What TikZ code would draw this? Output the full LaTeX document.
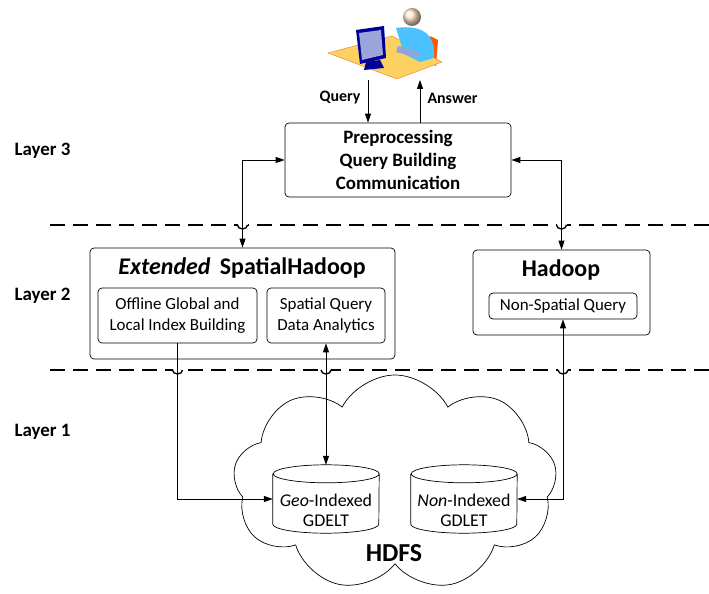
\documentclass[tikz,border=0pt]{standalone}
\usepackage{fontspec}
\setmainfont{Carlito}
\usetikzlibrary{arrows.meta,shapes.symbols}

\tikzset{
  box/.style={draw, rounded corners=4bp, line width=0.7bp, inner sep=0pt, align=center},
  layerlabel/.style={font=\bfseries\fontsize{19}{22}\selectfont, anchor=west},
  sep/.style={line width=1.4bp, dash pattern=on 15bp off 8bp},
  link/.style={line width=0.8bp, -{Triangle[length=9bp,width=6bp]}},
  twoway/.style={line width=0.8bp, {Triangle[length=9bp,width=6bp]}-{Triangle[length=9bp,width=6bp]}},
  store/.style={minimum width=106bp, minimum height=68bp, inner sep=0pt},
  storetext/.style={align=center, font=\fontsize{18}{20}\selectfont},
}

% small bump where a connector crosses a dashed separator
\newcommand{\hop}[2]{%
  \fill[white] (#1-5,#2-2) rectangle (#1+5,#2+2);
  \draw[line width=1.4bp] (#1-5,#2) arc (180:0:5 and 4);
}
% drum outline around a store node
\newcommand{\drum}[1]{%
  \draw[line width=0.7bp] ([yshift=-9bp]#1.north west) -- ([yshift=9bp]#1.south west)
    arc (180:360:53bp and 9bp) -- ([yshift=-9bp]#1.north east)
    arc (0:180:53bp and 9bp) arc (180:360:53bp and 9bp);
}

\begin{document}
\begin{tikzpicture}[x=1bp,y=-1bp]
\useasboundingbox (0,0) rectangle (709,594);

% user at the desk
\fill[orange!70!red] (430,36) -- (438,40) -- (436,66) -- (428,62) -- cycle;
\filldraw[draw=orange!60!brown, fill=yellow!45!orange!60] (328,53) -- (392,36) -- (442,62) -- (397,79) -- cycle;
\fill[blue!35!cyan!70] (396,28) .. controls (424,24) and (436,36) .. (434,58) -- (420,62) -- (404,54) -- cycle;
\fill[cyan!40!blue!45] (398,46) -- (420,52) -- (418,58) -- (396,52) -- cycle;
\shade[ball color=orange!20] (412,17) circle (9);
\fill[blue!60!black] (356,30) -- (384,26) -- (386,58) -- (360,64) -- cycle;
\fill[cyan!30!blue!40] (359,33) -- (381,30) -- (383,55) -- (362,60) -- cycle;
\fill[blue!60!black] (366,62) -- (380,60) -- (384,68) -- (364,70) -- cycle;
\node (user) at (385,40) {};

\coordinate (qin) at (368,80);
\coordinate (aout) at (420,80);

% layer separators
\draw[sep] (50,225) -- (709,225);
\draw[sep] (50,370) -- (709,370);

\node[layerlabel] (l3) at (11,151) {Layer 3};
\node[layerlabel] (l2) at (11,296) {Layer 2};
\node[layerlabel] (l1) at (11,432) {Layer 1};

% layer 3
\node[box, minimum width=226bp, minimum height=74bp, font=\bfseries\fontsize{19}{23}\selectfont] (prep) at (398,160)
  {Preprocessing\\Query Building\\Communication};

% layer 2
\node[box, minimum width=305bp, minimum height=111bp] (ext) at (242.5,303.5) {};
\node[font=\bfseries\fontsize{24}{26}\selectfont] (exttitle) at (242,268) {\textit{Extended}\, SpatialHadoop};
\node[box, minimum width=159bp, minimum height=55bp, font=\fontsize{17}{21}\selectfont] (offline) at (177.5,315.5)
  {Offline Global and\\Local Index Building};
\node[box, minimum width=118bp, minimum height=55bp, font=\fontsize{17}{21}\selectfont] (sq) at (326,315.5)
  {Spatial Query\\Data Analytics};

\node[box, minimum width=177bp, minimum height=85bp] (hadoop) at (561.5,292.5) {};
\node[font=\bfseries\fontsize{24}{26}\selectfont] (hadooptitle) at (561,270) {Hadoop};
\node[box, minimum width=148bp, minimum height=26bp, font=\fontsize{17}{18}\selectfont] (ns) at (563,306)
  {Non-Spatial Query};

% layer 1
\node[cloud, draw, line width=0.7bp, cloud puffs=9, cloud puff arc=125, aspect=1.5,
  minimum width=324bp, minimum height=216bp] (hdfs) at (395,483) {};
\node[font=\bfseries\fontsize{26}{28}\selectfont] (hdfslabel) at (394,553) {HDFS};
\node[store] (geo) at (326,499) {};
\node[store] (non) at (464,499) {};
\drum{geo}
\drum{non}
\node[storetext] (geotext) at (326,510) {\textit{Geo}-Indexed\\GDELT};
\node[storetext] (nontext) at (464,510) {\textit{Non}-Indexed\\GDLET};

\hop{242.5}{225}
\hop{561.5}{225}
\hop{177.5}{370}
\hop{326}{370}
\hop{563}{370}

% connectors
\draw[link] (qin) -- (prep.north -| qin);
\draw[link] (prep.north -| aout) -- (aout);
\draw[twoway] (prep.west) -| (ext.north);
\draw[twoway] (prep.east) -| (hadoop.north);
\draw[link] (offline.south) |- (geo.west);
\draw[twoway] (sq.south) -- (geo.north);
\draw[twoway] (ns.south) |- (non.east);

\node[font=\bfseries\fontsize{16}{18}\selectfont, anchor=east] (qlabel) at (364,98) {Query};
\node[font=\bfseries\fontsize{16}{18}\selectfont, anchor=west] (alabel) at (424,98) {Answer};
\end{tikzpicture}
\end{document}
